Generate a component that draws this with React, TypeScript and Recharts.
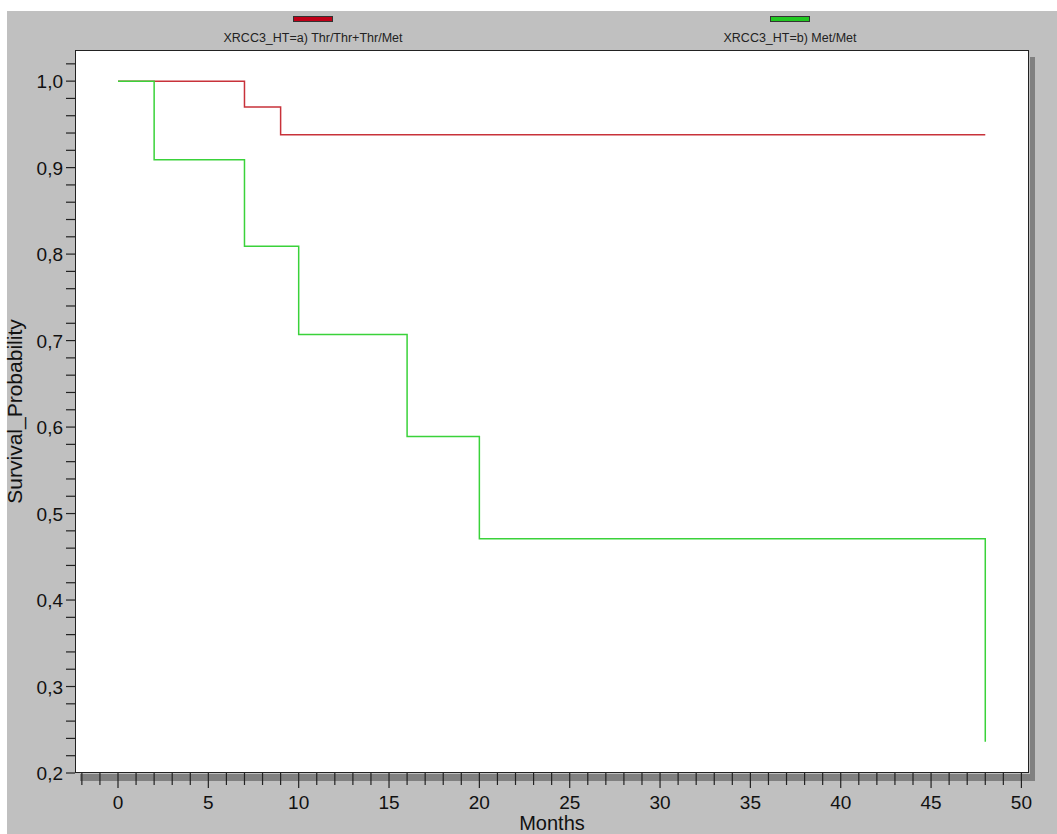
import React from 'react';
import { LineChart, Line, XAxis, YAxis } from 'recharts';

// Kaplan-Meier steps
const seriesNames = ['XRCC3_HT=a) Thr/Thr+Thr/Met', 'XRCC3_HT=b) Met/Met'];
const seriesColors = ['#c8323a', '#3ad23a'];
const legendColors = ['#c00018', '#22c822'];

const redMonths = [0, 7, 9, 48];
const redSurvival = [1.0, 0.97, 0.938, 0.938];

const greenMonths = [0, 2, 7, 10, 16, 20, 48];
const greenSurvival = [1.0, 0.909, 0.809, 0.707, 0.589, 0.471, 0.236];

const xMajorTicks = [0, 5, 10, 15, 20, 25, 30, 35, 40, 45, 50];
const yMajorTicks = [0.2, 0.3, 0.4, 0.5, 0.6, 0.7, 0.8, 0.9, 1.0];

// minor ticks every month / every 0.02
const xTicks = Array.from({ length: 53 }, (_, i) => i - 2);
const yTicks = Array.from({ length: 42 }, (_, i) => Math.round((0.2 + i * 0.02) * 100) / 100);

const redData = redMonths.map((m, i) => ({ month: m, surv: redSurvival[i] }));
const greenData = greenMonths.map((m, i) => ({ month: m, surv: greenSurvival[i] }));

const FONT = '"Liberation Sans", Arial, sans-serif';

const XTick = ({ x, y, payload }: any) => {
    const major = xMajorTicks.includes(payload.value);
    return (
        <g>
            <line x1={x} x2={x} y1={y} y2={y + (major ? 15 : 12)} stroke="#222" strokeWidth={1.2} />
            {major && (
                <text x={x} y={y + 36} textAnchor="middle" fontSize={19} fill="#111" fontFamily={FONT}>
                    {payload.value}
                </text>
            )}
        </g>
    );
};

const YTick = ({ x, y, payload }: any) => {
    const major = yMajorTicks.some(t => Math.abs(t - payload.value) < 1e-6);
    return (
        <g>
            <line x1={x - 9} x2={x} y1={y} y2={y} stroke="#222" strokeWidth={1.2} />
            {major && (
                <text x={x - 12} y={y + 7} textAnchor="end" fontSize={19} fill="#111" fontFamily={FONT}>
                    {payload.value.toFixed(1).replace('.', ',')}
                </text>
            )}
        </g>
    );
};

const YLabel = ({ viewBox }: any) => {
    const cy = viewBox.y + viewBox.height / 2;
    return (
        <text
            x={22}
            y={cy}
            transform={`rotate(-90 22 ${cy})`}
            textAnchor="middle"
            fontSize={21}
            fill="#111"
            fontFamily={FONT}
        >
            Survival_Probability
        </text>
    );
};

const App = () => {
    const legendX = [313, 790];
    return (
        <div style={{ position: 'absolute', left: 0, top: 0, width: 1057, height: 834, background: '#fff', overflow: 'hidden' }}>
            <div style={{ position: 'absolute', left: 7, top: 11, width: 1050, height: 823, background: '#c0c0c0' }} />
            {/* drop shadow of the plot frame */}
            <div style={{ position: 'absolute', left: 1030, top: 57, width: 5, height: 724, background: '#808080' }} />
            <div style={{ position: 'absolute', left: 80, top: 774, width: 955, height: 7, background: '#808080' }} />
            <div style={{
                position: 'absolute', left: 75, top: 50, width: 954, height: 723,
                background: '#fff', border: '1px solid #222', boxSizing: 'border-box'
            }} />
            {seriesNames.map((name, i) => (
                <div key={name} style={{ position: 'absolute', left: legendX[i] - 150, top: 16, width: 300, textAlign: 'center' }}>
                    <div style={{
                        width: 38, height: 4, margin: '0 auto', background: legendColors[i],
                        border: '1px solid #333'
                    }} />
                    <div style={{ fontFamily: FONT, fontSize: 12.5, color: '#222', marginTop: 9, lineHeight: '14px' }}>
                        {name}
                    </div>
                </div>
            ))}
            <div style={{ position: 'absolute', left: 0, top: 0 }}>
                <LineChart
                    width={1057}
                    height={834}
                    margin={{ top: 50, right: 28, bottom: 31, left: 15 }}
                >
                    <XAxis
                        dataKey="month"
                        type="number"
                        domain={[-2.38, 50.42]}
                        ticks={xTicks}
                        interval={0}
                        height={30}
                        axisLine={false}
                        tickLine={false}
                        tickSize={0}
                        tickMargin={0}
                        tick={<XTick />}
                        allowDataOverflow
                        label={{ value: 'Months', position: 'insideBottom', offset: -27, fontSize: 20, fill: '#111', fontFamily: FONT }}
                    />
                    <YAxis
                        type="number"
                        domain={[0.2, 1.036]}
                        ticks={yTicks}
                        interval={0}
                        width={60}
                        axisLine={false}
                        tickLine={false}
                        tickSize={0}
                        tickMargin={0}
                        tick={<YTick />}
                        allowDataOverflow
                        label={<YLabel />}
                    />
                    <Line
                        data={redData}
                        dataKey="surv"
                        type="stepAfter"
                        stroke={seriesColors[0]}
                        strokeWidth={1.5}
                        dot={false}
                        isAnimationActive={false}
                    />
                    <Line
                        data={greenData}
                        dataKey="surv"
                        type="stepAfter"
                        stroke={seriesColors[1]}
                        strokeWidth={1.5}
                        dot={false}
                        isAnimationActive={false}
                    />
                </LineChart>
            </div>
        </div>
    );
};

export default App;
